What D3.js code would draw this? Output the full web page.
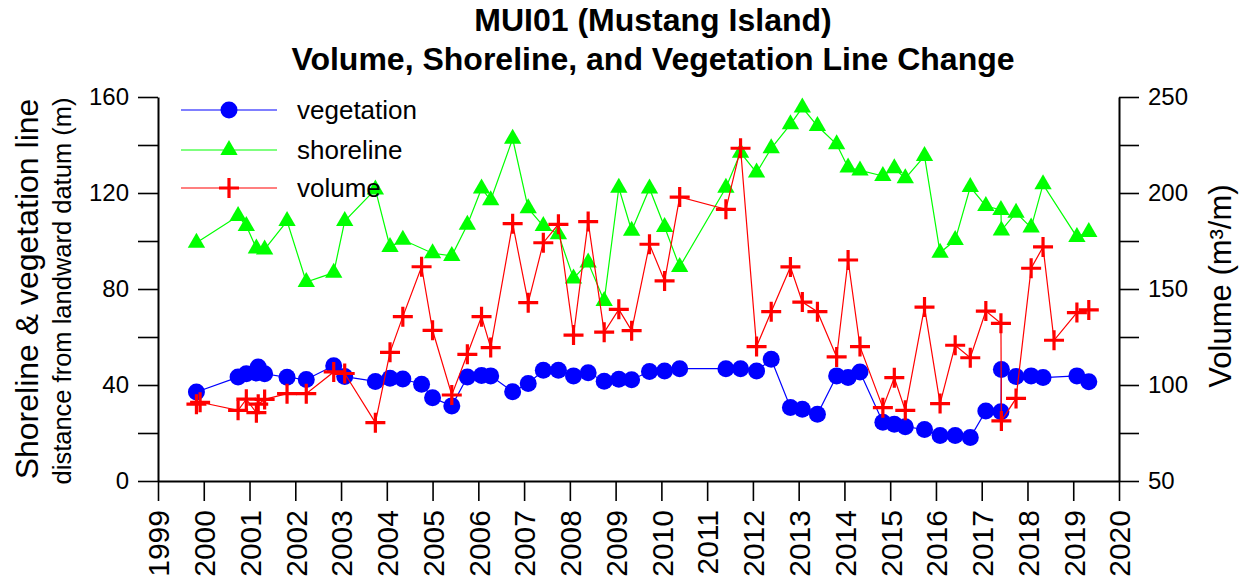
<!DOCTYPE html>
<html>
<head>
<meta charset="utf-8">
<script src="https://cdn.jsdelivr.net/npm/d3@7"></script>
<style>
  body { margin: 0; background: #fff; }
  text { font-family: "Liberation Sans", Arial, sans-serif; fill: #000; }
</style>
</head>
<body>
<svg id="chart" width="1247" height="584"></svg>
<script>
// Survey dates (decimal years) paired with measured values
const vegetation = [
  [1999.84, 37.1], [2000.75, 43.3], [2000.93, 44.7], [2001.15, 45.0], [2001.19, 47.5],
  [2001.33, 44.7], [2001.82, 43.2], [2002.24, 42.3], [2002.84, 48.0], [2003.08, 43.5],
  [2003.75, 41.5], [2004.07, 42.8], [2004.35, 42.5], [2004.76, 40.3], [2005.00, 34.7],
  [2005.42, 31.3], [2005.76, 43.3], [2006.07, 44.0], [2006.27, 43.8], [2006.75, 37.2],
  [2007.09, 40.6], [2007.42, 46.1], [2007.75, 46.1], [2008.08, 43.8], [2008.40, 45.1],
  [2008.75, 41.6], [2009.07, 42.4], [2009.35, 42.2], [2009.74, 45.6], [2010.07, 45.8],
  [2010.40, 46.8], [2011.41, 46.8], [2011.73, 46.8], [2012.08, 45.8], [2012.40, 50.7],
  [2012.82, 30.6], [2013.08, 29.9], [2013.41, 27.8], [2013.83, 43.8], [2014.08, 43.1],
  [2014.34, 45.4], [2014.84, 24.5], [2015.09, 23.6], [2015.33, 22.6], [2015.75, 21.5],
  [2016.09, 19.0], [2016.42, 19.0], [2016.75, 18.1], [2017.09, 29.2], [2017.42, 28.9],
  [2017.43, 46.5], [2017.75, 43.5], [2018.08, 43.8], [2018.34, 43.1], [2019.08, 43.8],
  [2019.34, 41.4]
];

const shoreline = [
  [1999.84, 99.3], [2000.75, 110.4], [2000.93, 106.3], [2001.15, 96.9], [2001.33, 96.5],
  [2001.82, 108.3], [2002.24, 82.9], [2002.84, 86.8], [2003.08, 108.3], [2003.75, 121.5],
  [2004.07, 97.5], [2004.35, 100.5], [2005.00, 94.9], [2005.42, 93.8], [2005.76, 106.8],
  [2006.07, 121.9], [2006.27, 117.0], [2006.75, 142.6], [2007.09, 113.6], [2007.42, 106.2],
  [2007.75, 102.8], [2008.08, 84.4], [2008.40, 91.0], [2008.75, 75.0], [2009.07, 122.2],
  [2009.35, 104.3], [2009.74, 121.9], [2010.07, 105.8], [2010.40, 89.2], [2011.41, 122.2],
  [2011.73, 136.8], [2012.08, 128.5], [2012.40, 138.6], [2012.82, 148.6], [2013.08, 155.6],
  [2013.41, 147.9], [2013.83, 140.3], [2014.08, 130.6], [2014.34, 129.4], [2014.84, 127.1],
  [2015.09, 130.3], [2015.33, 126.1], [2015.75, 135.4], [2016.09, 95.1], [2016.42, 100.4],
  [2016.75, 122.5], [2017.09, 114.6], [2017.42, 112.9], [2017.43, 104.4], [2017.75, 111.8],
  [2018.08, 105.6], [2018.34, 123.6], [2019.08, 101.7], [2019.34, 103.8]
];

const volume = [
  [1999.84, 90.0], [1999.92, 91.0], [2000.75, 86.8], [2000.93, 92.6], [2001.15, 85.6],
  [2001.19, 90.0], [2001.33, 92.5], [2001.82, 95.5], [2002.24, 95.5], [2002.84, 106.8],
  [2003.08, 106.0], [2003.75, 80.4], [2004.07, 117.0], [2004.35, 135.6], [2004.76, 161.6],
  [2005.00, 128.5], [2005.42, 94.8], [2005.76, 116.0], [2006.07, 135.6], [2006.27, 119.5],
  [2006.75, 184.0], [2007.09, 142.9], [2007.42, 174.1], [2007.75, 183.7], [2008.08, 126.0],
  [2008.40, 185.1], [2008.75, 127.5], [2009.07, 139.4], [2009.35, 128.3], [2009.74, 173.3],
  [2010.07, 154.2], [2010.40, 197.9], [2011.41, 191.5], [2011.73, 223.3], [2012.08, 120.0],
  [2012.40, 138.2], [2012.82, 161.5], [2013.08, 143.2], [2013.41, 138.2], [2013.83, 114.6],
  [2014.08, 165.1], [2014.34, 120.0], [2014.84, 88.2], [2015.09, 103.8], [2015.33, 86.8],
  [2015.75, 140.6], [2016.09, 90.3], [2016.42, 120.7], [2016.75, 114.2], [2017.09, 138.5],
  [2017.42, 132.1], [2017.43, 81.3], [2017.75, 93.0], [2018.08, 160.8], [2018.34, 171.9],
  [2018.58, 123.3], [2019.08, 137.7], [2019.34, 139.1]
];

// Axis tick values
const yearTicks = [1999, 2000, 2001, 2002, 2003, 2004, 2005, 2006, 2007, 2008, 2009, 2010,
                   2011, 2012, 2013, 2014, 2015, 2016, 2017, 2018, 2019, 2020];
const distanceTicks = [0, 20, 40, 60, 80, 100, 120, 140, 160];
const distanceLabels = [0, 40, 80, 120, 160];
const volumeTicks = [50, 75, 100, 125, 150, 175, 200, 225, 250];
const volumeLabels = [50, 100, 150, 200, 250];

const seriesNames = ["vegetation", "shoreline", "volume"];
const seriesColors = ["#0000ff", "#00ff00", "#ff0000"];

const svg = d3.select("#chart");
const plotLeft = 158, plotRight = 1119, plotTop = 97, plotBottom = 481;

const x = d3.scaleLinear().domain([1999, 2020]).range([plotLeft, plotRight]);
const yL = d3.scaleLinear().domain([0, 160]).range([plotBottom, plotTop]);
const yR = d3.scaleLinear().domain([50, 250]).range([plotBottom, plotTop]);

const tickLen = 20;

function styleAxis(g, size) {
  g.select(".domain").attr("stroke", "#000").attr("stroke-width", 2);
  g.selectAll(".tick line").attr("stroke", "#000").attr("stroke-width", 1.6);
  g.selectAll(".tick text").attr("font-size", size).attr("font-family", "Liberation Sans, Arial, sans-serif");
}

// Bottom (time) axis with rotated year labels
const gx = svg.append("g").attr("transform", `translate(0,${plotBottom})`)
  .call(d3.axisBottom(x).tickValues(yearTicks).tickSize(tickLen).tickSizeOuter(0)
        .tickFormat(d3.format("d")));
styleAxis(gx, 30);
gx.selectAll(".tick text")
  .attr("y", 0).attr("x", -29).attr("dy", "0.36em")
  .attr("transform", "rotate(-90)")
  .style("text-anchor", "end");

// Left axis: distance
const gl = svg.append("g").attr("transform", `translate(${plotLeft},0)`)
  .call(d3.axisLeft(yL).tickValues(distanceTicks).tickSize(tickLen).tickSizeOuter(0).tickPadding(9)
        .tickFormat(d => distanceLabels.includes(d) ? d : ""));
styleAxis(gl, 24);

// Right axis: volume
const gr = svg.append("g").attr("transform", `translate(${plotRight},0)`)
  .call(d3.axisRight(yR).tickValues(volumeTicks).tickSize(tickLen).tickSizeOuter(0).tickPadding(9)
        .tickFormat(d => volumeLabels.includes(d) ? d : ""));
styleAxis(gr, 24);

// Marker shapes
const crossPath = "M-10,0H10M0,-10V10";
const triPath = d3.symbol().type(d3.symbolTriangle).size(130)();

function drawMarker(sel, kind, color) {
  if (kind === 0) {
    sel.append("circle").attr("r", 8.5).attr("fill", color);
  } else if (kind === 1) {
    sel.append("path").attr("d", triPath).attr("fill", color);
  } else {
    sel.append("path").attr("d", crossPath).attr("stroke", color)
      .attr("stroke-width", 3.2).attr("fill", "none");
  }
}

const seriesData = [vegetation, shoreline, volume];
const seriesScale = [yL, yL, yR];

seriesData.forEach((data, i) => {
  const yS = seriesScale[i];
  const line = d3.line().x(d => x(d[0])).y(d => yS(d[1]));
  svg.append("path").datum(data)
    .attr("d", line).attr("fill", "none")
    .attr("stroke", seriesColors[i]).attr("stroke-width", 1.2);
  const pts = svg.append("g").selectAll("g").data(data).join("g")
    .attr("transform", d => `translate(${x(d[0])},${yS(d[1])})`);
  pts.each(function () { drawMarker(d3.select(this), i, seriesColors[i]); });
});

// Legend
const legendRows = [110, 150, 188];
seriesNames.forEach((name, i) => {
  const g = svg.append("g").attr("transform", `translate(0,${legendRows[i]})`);
  g.append("line").attr("x1", 181).attr("x2", 277).attr("y1", 0).attr("y2", 0)
    .attr("stroke", seriesColors[i]).attr("stroke-width", 1.2);
  const m = g.append("g").attr("transform", "translate(229,0)");
  drawMarker(m, i, seriesColors[i]);
  g.append("text").attr("x", 297).attr("y", 0).attr("dy", "0.35em")
    .attr("font-size", 26).text(name);
});

// Title
const title = svg.append("text").attr("x", 653).attr("text-anchor", "middle")
  .attr("font-weight", "bold").attr("font-size", 32);
title.append("tspan").attr("x", 653).attr("y", 31).text("MUI01 (Mustang Island)");
title.append("tspan").attr("x", 653).attr("y", 70).text("Volume, Shoreline, and Vegetation Line Change");

// Axis titles
const midY = (plotTop + plotBottom) / 2;
svg.append("text").attr("transform", `translate(38,${midY}) rotate(-90)`)
  .attr("text-anchor", "middle").attr("font-size", 32).text("Shoreline & vegetation line");
svg.append("text").attr("transform", `translate(71,${midY + 2}) rotate(-90)`)
  .attr("text-anchor", "middle").attr("font-size", 25.5).text("distance from landward datum (m)");
svg.append("text").attr("transform", `translate(1231,${midY - 3}) rotate(-90)`)
  .attr("text-anchor", "middle").attr("font-size", 31).text("Volume (m³/m)");
</script>
</body>
</html>
